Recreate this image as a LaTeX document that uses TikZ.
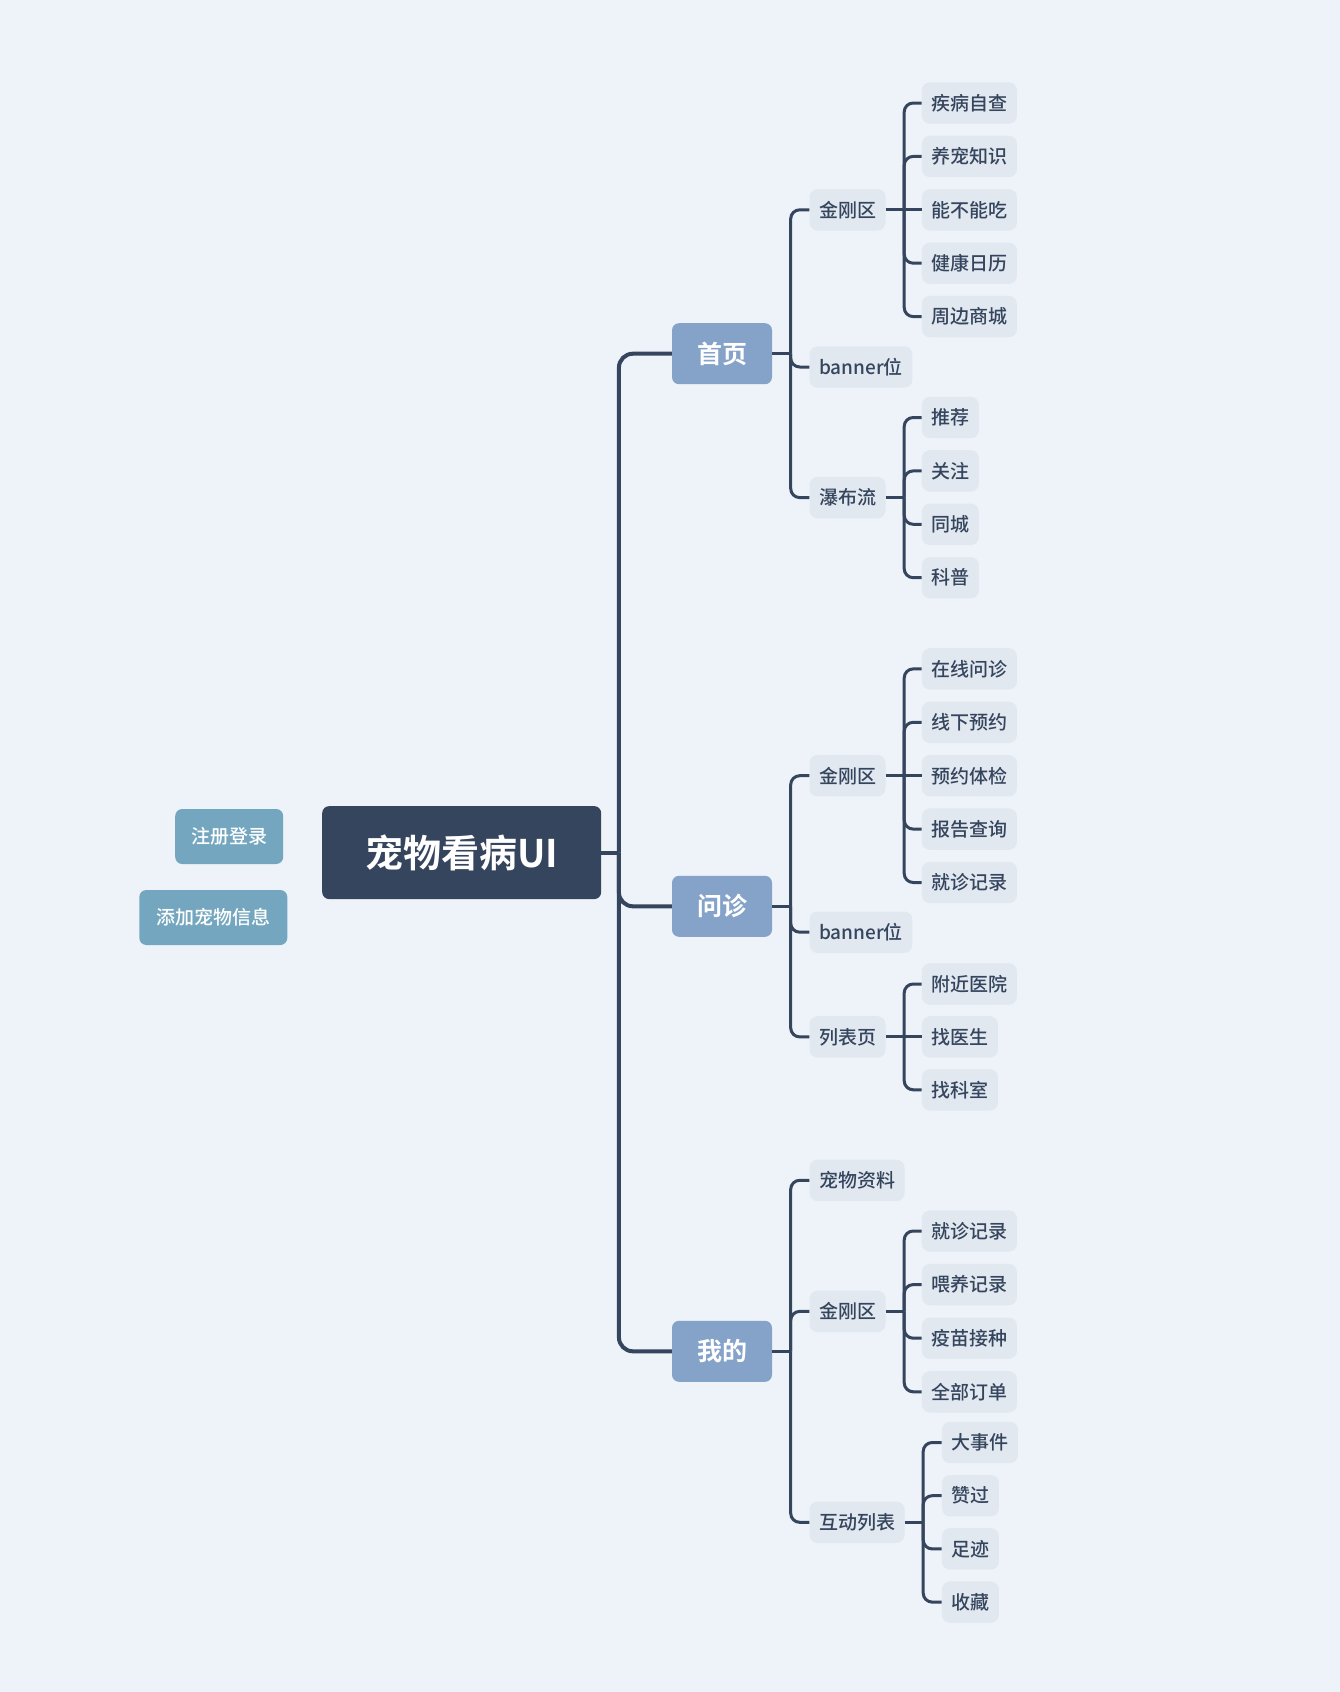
\documentclass[tikz,border=0pt]{standalone}
\usepackage{fontspec}
\setmainfont{Noto Sans CJK SC}[UprightFont=* Medium,BoldFont=* Bold]
\usepackage{tikz}
\usetikzlibrary{positioning}
\definecolor{pagebg}{HTML}{EDF3F9}
\definecolor{darkslate}{HTML}{35455D}
\definecolor{mainblue}{HTML}{85A3C8}
\definecolor{topicgray}{HTML}{E1E8F0}
\definecolor{floatblue}{HTML}{74A7BF}
\tikzset{rootbox/.style={fill=darkslate,rounded corners=7pt,text=white,minimum width=279pt,minimum height=93pt,font=\fontsize{38pt}{38pt}\selectfont\bfseries},
    mainbox/.style={fill=mainblue,rounded corners=7pt,text=white,minimum width=100pt,minimum height=61pt,font=\fontsize{25pt}{25pt}\selectfont\bfseries},
    topicbox/.style={fill=topicgray,rounded corners=8pt,text=darkslate,anchor=west,inner xsep=9.5pt,inner ysep=0pt,minimum height=41.4pt,font=\fontsize{19pt}{19pt}\selectfont},
    floatbox/.style={fill=floatblue,rounded corners=7pt,text=white,minimum height=55pt,font=\fontsize{19pt}{19pt}\selectfont},
    trunkline/.style={draw=darkslate,line width=4pt,rounded corners=14pt},
    branchline/.style={draw=darkslate,line width=3pt,rounded corners=9pt}}
\begin{document}
\begin{tikzpicture}[x=1pt,y=-1pt]

\fill [pagebg] (0,0) rectangle (1340,1692);
\useasboundingbox (0,0) rectangle (1340,1692);

\node (root) [rootbox] at (461.7,852.6) {宠物看病UI};
\node (reg) [floatbox,minimum width=108pt] at (229.2,836.5) {注册登录};
\node (addpet) [floatbox,minimum width=148pt] at (213.3,917.5) {添加宠物信息};

\node (home) [mainbox] at (722,353.7) {首页};
\node (consult) [mainbox] at (722,906.3) {问诊};
\node (mine) [mainbox] at (722,1351.3) {我的};

% 首页
\node (homeKK) [topicbox] at (809.3,209.8) {金刚区};
\node (homeBan) [topicbox] at (809.3,367) {banner位};
\node (homeFeed) [topicbox] at (809.3,497.6) {瀑布流};

\node (hk1) [topicbox] at (921.7,103) {疾病自查};
\node (hk2) [topicbox] at (921.7,156.4) {养宠知识};
\node (hk3) [topicbox] at (921.7,209.8) {能不能吃};
\node (hk4) [topicbox] at (921.7,263.2) {健康日历};
\node (hk5) [topicbox] at (921.7,316.6) {周边商城};

\node (hf1) [topicbox] at (921.7,417.5) {推荐};
\node (hf2) [topicbox] at (921.7,470.9) {关注};
\node (hf3) [topicbox] at (921.7,524.3) {同城};
\node (hf4) [topicbox] at (921.7,577.7) {科普};

% 问诊
\node (consultKK) [topicbox] at (809.3,775.7) {金刚区};
\node (consultBan) [topicbox] at (809.3,932.2) {banner位};
\node (consultList) [topicbox] at (809.3,1036.9) {列表页};

\node (ck1) [topicbox] at (921.7,668.9) {在线问诊};
\node (ck2) [topicbox] at (921.7,722.3) {线下预约};
\node (ck3) [topicbox] at (921.7,775.7) {预约体检};
\node (ck4) [topicbox] at (921.7,829.1) {报告查询};
\node (ck5) [topicbox] at (921.7,882.5) {就诊记录};

\node (cl1) [topicbox] at (921.7,984) {附近医院};
\node (cl2) [topicbox] at (921.7,1036.9) {找医生};
\node (cl3) [topicbox] at (921.7,1089.8) {找科室};

% 我的
\node (minePet) [topicbox] at (809.3,1180.3) {宠物资料};
\node (mineKK) [topicbox] at (809.3,1311.4) {金刚区};
\node (mineAct) [topicbox] at (809.3,1522.3) {互动列表};

\node (mk1) [topicbox] at (921.7,1231) {就诊记录};
\node (mk2) [topicbox] at (921.7,1284.6) {喂养记录};
\node (mk3) [topicbox] at (921.7,1338.2) {疫苗接种};
\node (mk4) [topicbox] at (921.7,1391.8) {全部订单};

\node (ma1) [topicbox] at (941.7,1442.5) {大事件};
\node (ma2) [topicbox] at (941.7,1495.7) {赞过};
\node (ma3) [topicbox] at (941.7,1548.9) {足迹};
\node (ma4) [topicbox] at (941.7,1602.1) {收藏};

% connectors
\coordinate [right=17.5pt of root] (rootj);
\draw [trunkline] (root) -- (rootj);
\draw [trunkline] (rootj) |- (home.west);
\draw [trunkline] (rootj) |- (consult.west);
\draw [trunkline] (rootj) |- (mine.west);

\coordinate [right=18.5pt of home] (homej);
\draw [branchline] (home) -- (homej);
\draw [branchline] (homej) |- (homeKK.west);
\draw [branchline] (homej) |- (homeBan.west);
\draw [branchline] (homej) |- (homeFeed.west);

\coordinate [right=18.5pt of homeKK] (homeKKj);
\draw [branchline] (homeKK) -- (hk3);
\draw [branchline] (homeKKj) |- (hk1.west);
\draw [branchline] (homeKKj) |- (hk2.west);
\draw [branchline] (homeKKj) |- (hk4.west);
\draw [branchline] (homeKKj) |- (hk5.west);

\coordinate [right=18.5pt of homeFeed] (homeFeedj);
\draw [branchline] (homeFeed) -- (homeFeedj);
\draw [branchline] (homeFeedj) |- (hf1.west);
\draw [branchline] (homeFeedj) |- (hf2.west);
\draw [branchline] (homeFeedj) |- (hf3.west);
\draw [branchline] (homeFeedj) |- (hf4.west);

\coordinate [right=18.5pt of consult] (consultj);
\draw [branchline] (consult) -- (consultj);
\draw [branchline] (consultj) |- (consultKK.west);
\draw [branchline] (consultj) |- (consultBan.west);
\draw [branchline] (consultj) |- (consultList.west);

\coordinate [right=18.5pt of consultKK] (consultKKj);
\draw [branchline] (consultKK) -- (ck3);
\draw [branchline] (consultKKj) |- (ck1.west);
\draw [branchline] (consultKKj) |- (ck2.west);
\draw [branchline] (consultKKj) |- (ck4.west);
\draw [branchline] (consultKKj) |- (ck5.west);

\coordinate [right=18.5pt of consultList] (consultListj);
\draw [branchline] (consultList) -- (cl2);
\draw [branchline] (consultListj) |- (cl1.west);
\draw [branchline] (consultListj) |- (cl3.west);

\coordinate [right=18.5pt of mine] (minej);
\draw [branchline] (mine) -- (minej);
\draw [branchline] (minej) |- (minePet.west);
\draw [branchline] (minej) |- (mineKK.west);
\draw [branchline] (minej) |- (mineAct.west);

\coordinate [right=18.5pt of mineKK] (mineKKj);
\draw [branchline] (mineKK) -- (mineKKj);
\draw [branchline] (mineKKj) |- (mk1.west);
\draw [branchline] (mineKKj) |- (mk2.west);
\draw [branchline] (mineKKj) |- (mk3.west);
\draw [branchline] (mineKKj) |- (mk4.west);

\coordinate [right=18.5pt of mineAct] (mineActj);
\draw [branchline] (mineAct) -- (mineActj);
\draw [branchline] (mineActj) |- (ma1.west);
\draw [branchline] (mineActj) |- (ma2.west);
\draw [branchline] (mineActj) |- (ma3.west);
\draw [branchline] (mineActj) |- (ma4.west);

\end{tikzpicture}
\end{document}
